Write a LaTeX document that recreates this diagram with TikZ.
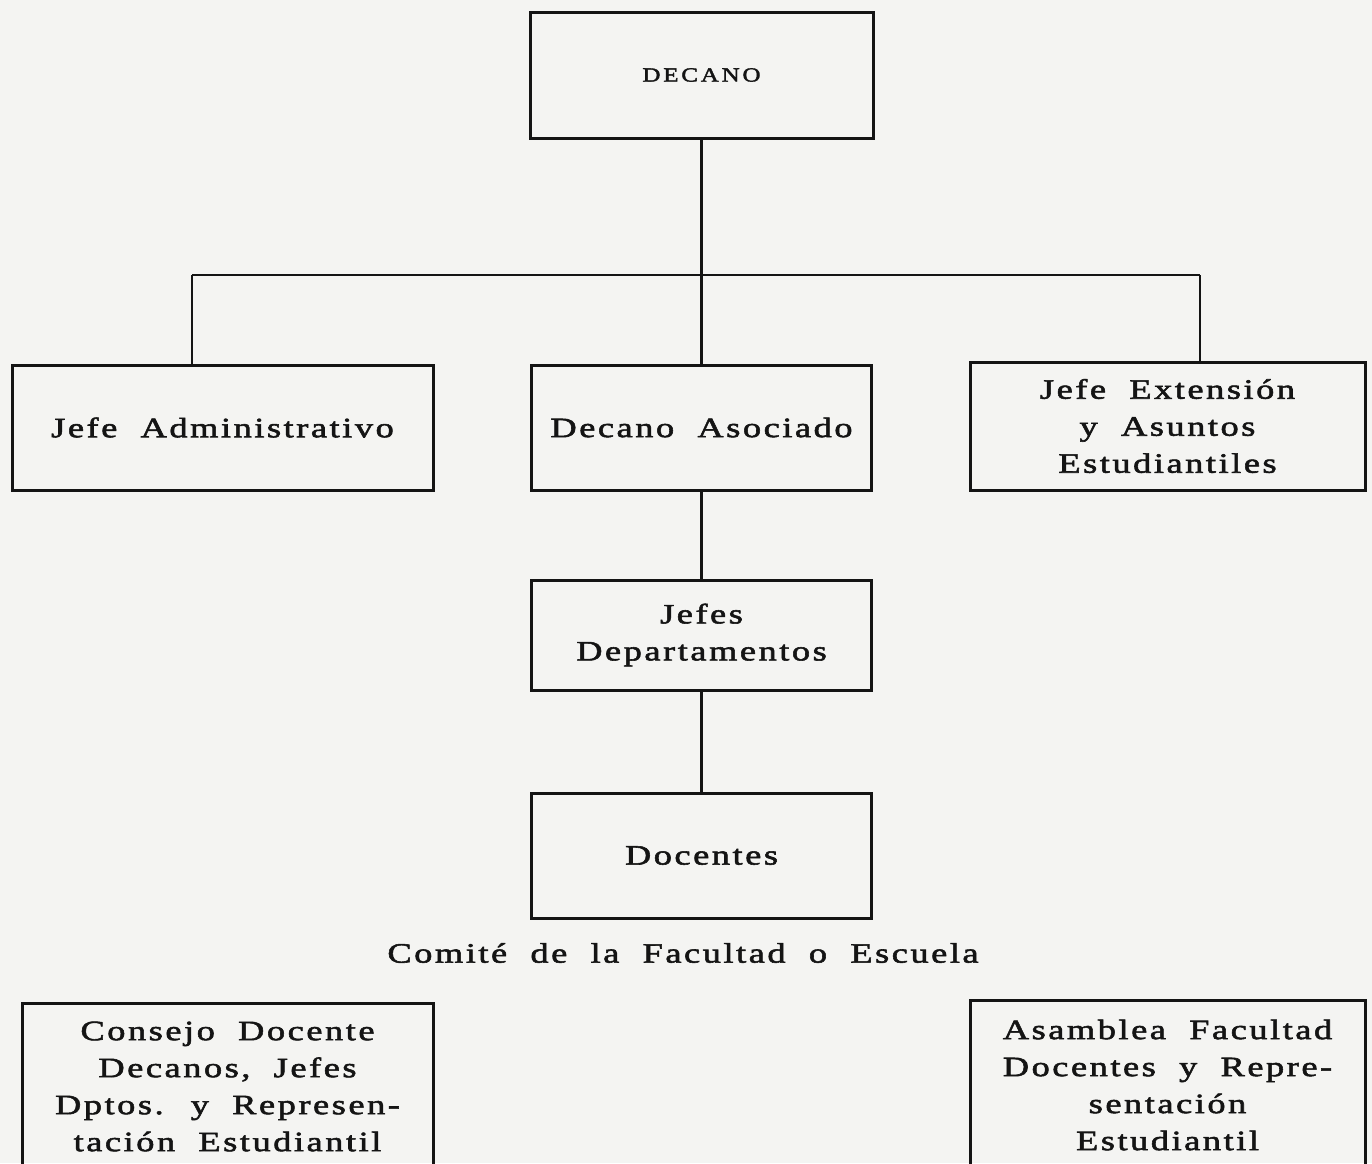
\documentclass[tikz,border=0pt]{standalone}
\usepackage{fontspec}
\newfontfamily\orgfont[LetterSpace=9,WordSpace=2,FakeStretch=1.3,FakeBold=2]{Liberation Serif}
\newfontfamily\capfont[LetterSpace=14,FakeStretch=1.25,FakeBold=2]{Liberation Serif}
\definecolor{paper}{RGB}{244,244,242}
\definecolor{ink}{RGB}{20,20,20}
\begin{document}
\begin{tikzpicture}[x=1pt,y=-1pt,
  box/.style={draw=ink, line width=3pt, inner sep=0pt, align=center, text=ink,
    font=\orgfont\fontsize{28}{37}\selectfont},
  conn/.style={draw=ink, line width=2.6pt},
  caption/.style={inner sep=0pt, text=ink, font=\orgfont\fontsize{28}{37}\selectfont}]
\useasboundingbox (0,0) rectangle (1372,1163);
\fill[paper] (0,0) rectangle (1372,1163);
% boxes
\node[box, minimum width=343pt, minimum height=126pt] (dec) at (701.5,75)
  {\capfont\fontsize{20}{22}\selectfont DECANO};
\node[box, minimum width=421pt, minimum height=125pt] (adm) at (222.5,427.5)
  {Jefe Administrativo};
\node[box, minimum width=340pt, minimum height=125pt] (aso) at (701.5,427.5)
  {Decano Asociado};
\node[box, minimum width=395pt, minimum height=128pt] (ext) at (1167.5,426)
  {Jefe Extensión\\y Asuntos\\Estudiantiles};
\node[box, minimum width=340pt, minimum height=110pt] (dept) at (701.5,635)
  {Jefes\\Departamentos};
\node[box, minimum width=340pt, minimum height=125pt] (doc) at (701.5,855.5)
  {Docentes};
\node[caption] (com) at (683,953) {Comité de la Facultad o Escuela};
\node[box, minimum width=411pt, minimum height=167pt] (cons) at (227.5,1086.5)
  {Consejo Docente\\Decanos, Jefes\\Dptos. y Represen-\\tación Estudiantil};
\node[box, minimum width=395pt, minimum height=170pt] (asam) at (1167.5,1085)
  {Asamblea Facultad\\Docentes y Repre-\\sentación\\Estudiantil};
% connectors
\coordinate (bar) at (701.5,275);
\coordinate (barL) at (192,275);
\coordinate (barR) at (1200,275);
\draw[conn] (dec.south) -- (bar);
\draw[conn] (barL) -- (barR);
\draw[conn] (barL) -- (barL |- adm.north);
\draw[conn] (bar) -- (aso.north);
\draw[conn] (barR) -- (barR |- ext.north);
\draw[conn] (aso.south) -- (dept.north);
\draw[conn] (dept.south) -- (doc.north);
\end{tikzpicture}
\end{document}
